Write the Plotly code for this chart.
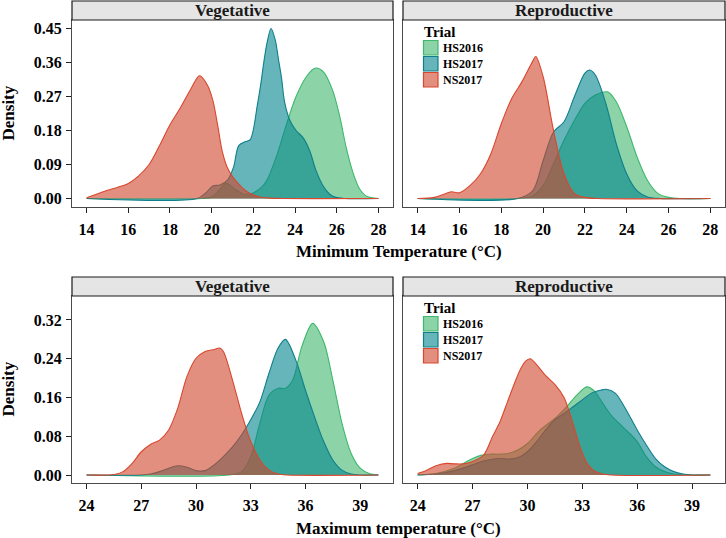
import plotly.graph_objects as go

# ---------------- data ----------------
TRIALS = ["HS2016", "HS2017", "NS2017"]
LINE_COLORS = {"HS2016": "#3DB86E", "HS2017": "#0E7F8A", "NS2017": "#D9472E"}
FILL_COLORS = {"HS2016": "rgba(65,182,110,0.6)", "HS2017": "rgba(0,132,140,0.6)",
               "NS2017": "rgba(208,68,43,0.6)"}
STAGES = ["Vegetative", "Reproductive"]

# Minimum temperature, vegetative
MINV_HS2016_X = [14, 19.5, 20.0, 20.35, 20.7, 21.1, 21.5, 21.85, 22.1, 22.4, 22.65, 23.1, 23.6, 24.05, 24.55, 24.95, 25.35, 25.8, 26.15, 26.45, 26.8, 27.1, 27.4, 27.8, 28]
MINV_HS2016_Y = [0, 0, 0.004, 0.022, 0.04, 0.026, 0.012, 0.012, 0.018, 0.03, 0.048, 0.11, 0.198, 0.27, 0.323, 0.345, 0.336, 0.287, 0.216, 0.136, 0.065, 0.025, 0.007, 0.001, 0]
MINV_HS2017_X = [14, 19.3, 19.7, 20.05, 20.4, 20.75, 21.05, 21.3, 21.6, 21.85, 22.2, 22.35, 22.5, 22.65, 22.85, 23.05, 23.2, 23.35, 23.5, 23.75, 24.05, 24.4, 24.7, 25.0, 25.35, 25.65, 25.95, 26.4, 28]
MINV_HS2017_Y = [0, 0, 0.014, 0.033, 0.036, 0.048, 0.083, 0.14, 0.15, 0.156, 0.25, 0.3, 0.36, 0.41, 0.45, 0.42, 0.37, 0.32, 0.255, 0.207, 0.18, 0.16, 0.127, 0.075, 0.033, 0.012, 0.003, 0, 0]
MINV_NS2017_X = [14, 14.5, 15, 15.5, 16, 16.5, 17, 17.5, 18, 18.5, 19, 19.42, 19.8, 20.06, 20.3, 20.5, 20.75, 21.0, 21.3, 21.6, 21.9, 22.3, 22.8, 23.4, 28]
MINV_NS2017_Y = [0.002, 0.012, 0.022, 0.03, 0.04, 0.06, 0.09, 0.14, 0.195, 0.24, 0.29, 0.325, 0.3, 0.259, 0.19, 0.127, 0.082, 0.058, 0.038, 0.022, 0.012, 0.004, 0.001, 0, 0]

# Minimum temperature, reproductive
MINR_HS2016_X = [14, 18.8, 19.5, 20, 20.5, 21, 21.5, 22, 22.5, 23.1, 23.5, 24, 24.5, 25, 25.5, 26, 26.6, 28]
MINR_HS2016_Y = [0, 0, 0.007, 0.034, 0.092, 0.154, 0.207, 0.252, 0.274, 0.282, 0.256, 0.19, 0.109, 0.047, 0.013, 0.003, 0, 0]
MINR_HS2017_X = [14, 18.8, 19.5, 20, 20.5, 21, 21.5, 22, 22.23, 22.5, 23, 23.5, 24, 24.5, 25, 25.6, 28]
MINR_HS2017_Y = [0, 0, 0.02, 0.1, 0.176, 0.203, 0.27, 0.332, 0.34, 0.327, 0.252, 0.145, 0.065, 0.02, 0.004, 0, 0]
MINR_NS2017_X = [14, 14.8, 15.3, 15.6, 16, 16.5, 17, 17.5, 18, 18.5, 19, 19.5, 19.65, 20, 20.5, 21, 21.5, 22, 22.6, 28]
MINR_NS2017_Y = [0, 0.003, 0.012, 0.018, 0.015, 0.034, 0.065, 0.118, 0.198, 0.265, 0.31, 0.363, 0.376, 0.323, 0.18, 0.065, 0.013, 0.003, 0, 0]

# Maximum temperature, vegetative
MAXV_HS2016_X = [24, 31.8, 32.5, 33, 33.5, 34, 34.5, 34.9, 35.3, 35.8, 36.4, 37, 37.5, 38, 38.5, 39, 39.5, 40]
MAXV_HS2016_Y = [0, 0, 0.007, 0.038, 0.107, 0.165, 0.179, 0.179, 0.196, 0.265, 0.313, 0.275, 0.196, 0.107, 0.045, 0.014, 0.003, 0]
MAXV_HS2017_X = [24, 27, 27.5, 28, 28.5, 29, 29.5, 30, 30.5, 31, 31.5, 32, 32.5, 33, 33.5, 34, 34.5, 34.9, 35.5, 36, 36.5, 37, 37.5, 38, 38.5, 39, 40]
MAXV_HS2017_Y = [0, 0, 0.002, 0.007, 0.014, 0.019, 0.016, 0.009, 0.009, 0.021, 0.038, 0.058, 0.083, 0.114, 0.151, 0.21, 0.262, 0.28, 0.234, 0.175, 0.12, 0.069, 0.031, 0.01, 0.002, 0, 0]
MAXV_NS2017_X = [24, 25.5, 26, 26.5, 27, 27.5, 28, 28.5, 29, 29.5, 30, 30.5, 31, 31.3, 31.5, 32, 32.5, 33, 33.5, 34, 34.5, 35, 40]
MAXV_NS2017_Y = [0, 0.001, 0.007, 0.024, 0.048, 0.063, 0.072, 0.093, 0.138, 0.203, 0.241, 0.255, 0.259, 0.262, 0.255, 0.196, 0.127, 0.069, 0.031, 0.01, 0.002, 0, 0]

# Maximum temperature, reproductive
MAXR_HS2016_X = [24, 25, 26, 26.5, 27, 27.5, 28, 28.5, 29, 29.5, 30, 30.7, 31.6, 32.15, 32.7, 33.25, 33.7, 34, 34.5, 35, 35.5, 36, 36.5, 37, 37.5, 38, 38.6, 40]
MAXR_HS2016_Y = [0, 0.003, 0.014, 0.024, 0.034, 0.041, 0.043, 0.043, 0.045, 0.052, 0.065, 0.093, 0.12, 0.141, 0.165, 0.182, 0.172, 0.155, 0.127, 0.107, 0.089, 0.069, 0.038, 0.017, 0.007, 0.002, 0, 0]
MAXR_HS2017_X = [24, 25, 26, 27, 27.5, 28, 28.5, 29, 29.5, 30, 30.5, 31, 31.5, 32, 32.5, 33, 33.5, 34, 34.3, 34.8, 35.3, 36, 36.5, 37, 37.5, 38, 38.5, 39, 40]
MAXR_HS2017_Y = [0, 0.002, 0.009, 0.021, 0.028, 0.032, 0.034, 0.033, 0.036, 0.048, 0.069, 0.093, 0.114, 0.127, 0.141, 0.155, 0.169, 0.175, 0.177, 0.169, 0.141, 0.093, 0.062, 0.034, 0.017, 0.007, 0.002, 0, 0]
MAXR_NS2017_X = [24, 24.5, 25, 25.6, 26, 26.5, 27, 27.6, 28.1, 28.5, 28.9, 29.3, 29.6, 29.9, 30.15, 30.5, 31, 31.5, 32, 32.5, 32.9, 33.3, 33.6, 34, 34.6, 40]
MAXR_NS2017_Y = [0.003, 0.01, 0.019, 0.024, 0.023, 0.023, 0.028, 0.041, 0.08, 0.11, 0.15, 0.19, 0.217, 0.235, 0.24, 0.228, 0.205, 0.187, 0.16, 0.105, 0.055, 0.022, 0.01, 0.003, 0, 0]

PANELS = [
    {"axis": 1, "curves": {"HS2016": (MINV_HS2016_X, MINV_HS2016_Y), "HS2017": (MINV_HS2017_X, MINV_HS2017_Y), "NS2017": (MINV_NS2017_X, MINV_NS2017_Y)}},
    {"axis": 2, "curves": {"HS2016": (MINR_HS2016_X, MINR_HS2016_Y), "HS2017": (MINR_HS2017_X, MINR_HS2017_Y), "NS2017": (MINR_NS2017_X, MINR_NS2017_Y)}},
    {"axis": 3, "curves": {"HS2016": (MAXV_HS2016_X, MAXV_HS2016_Y), "HS2017": (MAXV_HS2017_X, MAXV_HS2017_Y), "NS2017": (MAXV_NS2017_X, MAXV_NS2017_Y)}},
    {"axis": 4, "curves": {"HS2016": (MAXR_HS2016_X, MAXR_HS2016_Y), "HS2017": (MAXR_HS2017_X, MAXR_HS2017_Y), "NS2017": (MAXR_NS2017_X, MAXR_NS2017_Y)}},
]

MIN_XTICKS = [14, 16, 18, 20, 22, 24, 26, 28]
MAX_XTICKS = [24, 27, 30, 33, 36, 39]
MIN_YTICKS = [0.00, 0.09, 0.18, 0.27, 0.36, 0.45]
MAX_YTICKS = [0.00, 0.08, 0.16, 0.24, 0.32]
X_TITLES = ["Minimum Temperature (°C)", "Maximum temperature (°C)"]
Y_TITLE = "Density"
LEGEND_TITLE = "Trial"

# ---------------- layout geometry (pixels) ----------------
W, H = 726, 538
FONT = "Liberation Serif"
COL_X = [(72, 393), (403, 725)]
ROW_Y = [(20, 207), (296, 483)]
STRIP_H = 19


def px_x(p):
    return p / W


def px_y(p):
    return 1 - p / H


fig = go.Figure()

for panel in PANELS:
    a = panel["axis"]
    suffix = "" if a == 1 else str(a)
    for t in TRIALS:
        xs, ys = panel["curves"][t]
        fig.add_trace(go.Scatter(
            x=xs, y=ys, mode="lines", fill="tozeroy",
            fillcolor=FILL_COLORS[t],
            line=dict(color=LINE_COLORS[t], width=1.1, shape="spline", smoothing=0.9),
            name=t, showlegend=False, hoverinfo="skip",
            xaxis="x" + suffix, yaxis="y" + suffix,
        ))

axis_common = dict(showgrid=False, zeroline=False, showline=True, mirror=True,
                   linecolor="#4a4a4a", linewidth=1.2, ticks="outside", ticklen=5,
                   tickwidth=1, tickcolor="#222222",
                   tickfont=dict(family=FONT, size=16, color="black", weight="bold"))

layout = dict(width=W, height=H, autosize=False, margin=dict(l=0, r=0, t=0, b=0),
              paper_bgcolor="white", plot_bgcolor="white", showlegend=False)

for i, panel in enumerate(PANELS):
    a = panel["axis"]
    row, col = divmod(i, 2)
    x0, x1 = COL_X[col]
    y0, y1 = ROW_Y[row]
    if row == 0:
        xr, xt, yr, yt = [13.3, 28.7], MIN_XTICKS, [-0.0225, 0.4725], MIN_YTICKS
    else:
        xr, xt, yr, yt = [23.2, 40.8], MAX_XTICKS, [-0.0165, 0.3695], MAX_YTICKS
    suffix = "" if a == 1 else str(a)
    xa = dict(axis_common, domain=[px_x(x0), px_x(x1)], range=xr, tickvals=xt,
              ticktext=[str(v) for v in xt], anchor="y" + suffix, ticklabelstandoff=3)
    ya = dict(axis_common, domain=[px_y(y1), px_y(y0)], range=yr, tickvals=yt,
              ticktext=["%.2f" % v for v in yt], anchor="x" + suffix, ticklabelstandoff=1)
    if col == 1:
        ya["ticks"] = ""
        ya["showticklabels"] = False
    layout["xaxis" + suffix] = xa
    layout["yaxis" + suffix] = ya

fig.update_layout(**layout)

shapes = []
annotations = []
# strips
for row in range(2):
    for col in range(2):
        x0, x1 = COL_X[col]
        y0 = ROW_Y[row][0]
        shapes.append(dict(type="rect", xref="paper", yref="paper",
                           x0=px_x(x0), x1=px_x(x1), y0=px_y(y0), y1=px_y(y0 - STRIP_H),
                           fillcolor="#E5E5E5", line=dict(color="#1a1a1a", width=1.2)))
        annotations.append(dict(text="<b>%s</b>" % STAGES[col], xref="paper", yref="paper",
                                x=px_x((x0 + x1) / 2), y=px_y(y0 - STRIP_H / 2),
                                showarrow=False, xanchor="center", yanchor="middle",
                                font=dict(family=FONT, size=17, color="#1a1a1a")))
# axis titles
for row in range(2):
    y0, y1 = ROW_Y[row]
    annotations.append(dict(text="<b>%s</b>" % Y_TITLE, xref="paper", yref="paper",
                            x=px_x(8), y=px_y((y0 + y1) / 2), textangle=-90,
                            showarrow=False, xanchor="center", yanchor="middle",
                            font=dict(family=FONT, size=17, color="black")))
    annotations.append(dict(text="<b>%s</b>" % X_TITLES[row], xref="paper", yref="paper",
                            x=px_x((COL_X[0][0] + COL_X[1][1]) / 2), y=px_y(y1 + 45),
                            showarrow=False, xanchor="center", yanchor="middle",
                            font=dict(family=FONT, size=17, color="black")))
# legends (inside the Reproductive panels)
for row in range(2):
    top = ROW_Y[row][0]
    annotations.append(dict(text="<b>%s</b>" % LEGEND_TITLE, xref="paper", yref="paper",
                            x=px_x(422), y=px_y(top + 12), showarrow=False,
                            xanchor="left", yanchor="middle",
                            font=dict(family=FONT, size=15, color="black")))
    for k, t in enumerate(TRIALS):
        ky = top + 20.5 + k * 16
        shapes.append(dict(type="rect", xref="paper", yref="paper",
                           x0=px_x(423.5), x1=px_x(438), y0=px_y(ky + 14.5), y1=px_y(ky),
                           fillcolor=FILL_COLORS[t], line=dict(color=LINE_COLORS[t], width=1.2)))
        annotations.append(dict(text="<b>%s</b>" % t, xref="paper", yref="paper",
                                x=px_x(440.5), y=px_y(ky + 7.5), showarrow=False,
                                xanchor="left", yanchor="middle",
                                font=dict(family=FONT, size=12, color="black")))

fig.update_layout(shapes=shapes, annotations=annotations)
fig.write_html("out.html", config={"displayModeBar": False},
               post_script="document.body.style.margin='0';document.body.style.overflow='hidden';")
